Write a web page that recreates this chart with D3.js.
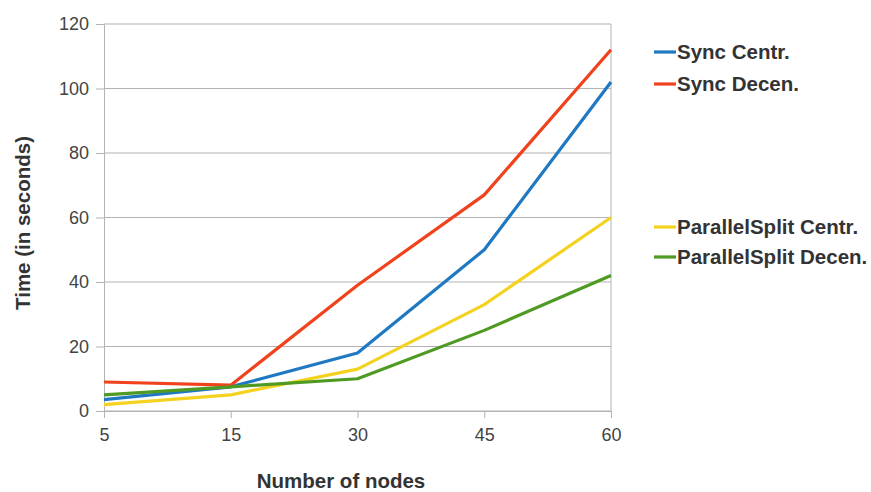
<!DOCTYPE html>
<html>
<head>
<meta charset="utf-8">
<script src="https://cdn.jsdelivr.net/npm/d3@7"></script>
<style>
  html, body { margin: 0; padding: 0; background: #fff; }
  svg { display: block; }
  text { font-family: "Liberation Sans", Arial, sans-serif; }
</style>
</head>
<body>
<svg id="chart" width="871" height="492"></svg>
<script>
// Node counts on the x axis
const nodes = ["5", "15", "30", "45", "60"];
// Execution time in seconds per series
const syncCentr = [3.5, 7.5, 18, 50, 102];
const syncDecen = [9, 8, 39, 67, 112];
const parCentr = [2, 5, 13, 33, 60];
const parDecen = [5, 7.5, 10, 25, 42];
const yTicks = [0, 20, 40, 60, 80, 100, 120];

const seriesNames = ["Sync Centr.", "Sync Decen.", "ParallelSplit Centr.", "ParallelSplit Decen."];
const seriesValues = [syncCentr, syncDecen, parCentr, parDecen];
const seriesColors = ["#1f78c2", "#f0421c", "#f4d21f", "#4e9a22"];

const svg = d3.select("#chart");
const plot = { left: 104, right: 611, top: 24, bottom: 411 };
const labelFont = "'Liberation Sans', Arial, sans-serif";

const x = d3.scalePoint().domain(nodes).range([plot.left, plot.right]);
const y = d3.scaleLinear().domain([0, 120]).range([plot.bottom, plot.top]);

// horizontal gridlines
svg.append("g")
  .selectAll("line")
  .data(yTicks)
  .join("line")
  .attr("x1", plot.left).attr("x2", plot.right)
  .attr("y1", d => y(d)).attr("y2", d => y(d))
  .attr("stroke", "#b3b3b3").attr("stroke-width", 1);

// right frame edge
svg.append("line")
  .attr("x1", plot.right).attr("x2", plot.right)
  .attr("y1", plot.top).attr("y2", plot.bottom)
  .attr("stroke", "#b3b3b3");

// y axis
const yAxis = svg.append("g")
  .attr("transform", `translate(${plot.left},0)`)
  .call(d3.axisLeft(y).tickValues(yTicks).tickSize(8).tickPadding(7));
yAxis.select(".domain").attr("stroke", "#b3b3b3");
yAxis.selectAll(".tick line").attr("stroke", "#b3b3b3");
yAxis.selectAll(".tick text")
  .attr("fill", "#444").style("font-size", "18px")
  .style("font-family", labelFont);

// x axis
const xAxis = svg.append("g")
  .attr("transform", `translate(0,${plot.bottom})`)
  .call(d3.axisBottom(x).tickSize(7).tickPadding(10));
xAxis.select(".domain").attr("stroke", "#b3b3b3");
xAxis.selectAll(".tick line").attr("stroke", "#b3b3b3");
xAxis.selectAll(".tick text")
  .attr("fill", "#444").style("font-size", "18px")
  .style("font-family", labelFont);

// series lines
const line = d3.line()
  .x((d, i) => x(nodes[i]))
  .y(d => y(d));

svg.append("g")
  .selectAll("path")
  .data(seriesValues)
  .join("path")
  .attr("d", d => line(d))
  .attr("fill", "none")
  .attr("stroke", (d, i) => seriesColors[i])
  .attr("stroke-width", 3.2)
  .attr("stroke-linejoin", "round");

// axis titles
svg.append("text")
  .attr("x", 341).attr("y", 488)
  .attr("text-anchor", "middle")
  .attr("fill", "#333")
  .style("font-size", "20.5px").style("font-weight", "bold")
  .text("Number of nodes");

svg.append("text")
  .attr("transform", "translate(30,223) rotate(-90)")
  .attr("text-anchor", "middle")
  .attr("fill", "#333")
  .style("font-size", "20.5px").style("font-weight", "bold")
  .text("Time (in seconds)");

// legend
const legendY = [52, 84, 227, 257];
const legend = svg.append("g")
  .selectAll("g")
  .data(seriesNames)
  .join("g")
  .attr("transform", (d, i) => `translate(654,${legendY[i]})`);
legend.append("line")
  .attr("x1", 0).attr("x2", 22)
  .attr("y1", 0).attr("y2", 0)
  .attr("stroke", (d, i) => seriesColors[i])
  .attr("stroke-width", 3.2);
legend.append("text")
  .attr("x", 23).attr("y", 7)
  .attr("fill", "#333")
  .style("font-size", "20.5px").style("font-weight", "bold")
  .text(d => d);
</script>
</body>
</html>
